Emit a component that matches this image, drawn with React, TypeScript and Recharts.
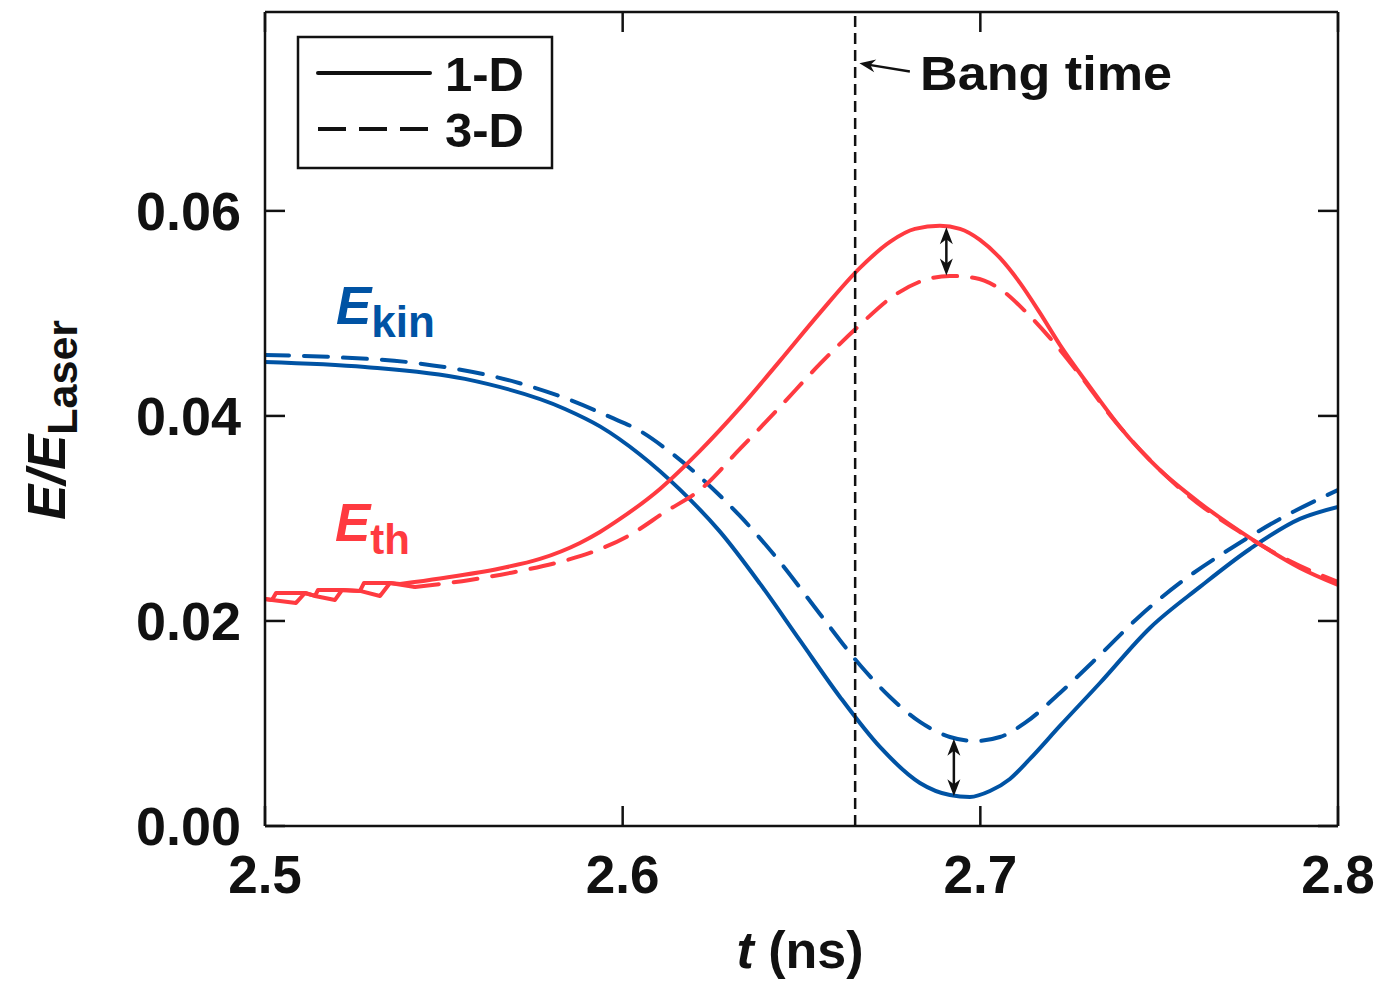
import React from "react";
import { LineChart, Line, XAxis, YAxis, ReferenceLine } from "recharts";

const FONT = "'Liberation Sans', Arial, Helvetica, sans-serif";
const BLUE = "#0053A4";
const RED = "#FF3A40";
const INK = "#111111";

const W = 1367;
const H = 968;
const MARGIN = { top: 3, right: 36, bottom: 70, left: 137 };

const xTicks = [2.5, 2.6, 2.7, 2.8];
const yTicks = [0, 0.02, 0.04, 0.06];
const xDomain = [2.5, 2.8];
const yDomain = [0, 0.0794];
const bangTime = 2.665;

// kinetic energy, 1-D run
const kin1DTime = [2.5, 2.52796, 2.55591, 2.58387, 2.59365, 2.60483, 2.61602, 2.6272, 2.63838, 2.64957, 2.66075, 2.67193, 2.68311, 2.6915, 2.69709, 2.70268, 2.70827, 2.71387, 2.72225, 2.73344, 2.74742, 2.7614, 2.77537, 2.78935, 2.8];
const kin1DValue = [0.04527, 0.04478, 0.04361, 0.04068, 0.03898, 0.03624, 0.03281, 0.02871, 0.02364, 0.0181, 0.01259, 0.00771, 0.0042, 0.00302, 0.00283, 0.00341, 0.00459, 0.00654, 0.00976, 0.01395, 0.01932, 0.02332, 0.02702, 0.02995, 0.03112];

// kinetic energy, 3-D run
const kin3DTime = [2.5, 2.52097, 2.54193, 2.56989, 2.58527, 2.59645, 2.60483, 2.61322, 2.62161, 2.63279, 2.64397, 2.65515, 2.66634, 2.67473, 2.68311, 2.6915, 2.69849, 2.70548, 2.71247, 2.72225, 2.73344, 2.74462, 2.7558, 2.76978, 2.78376, 2.8];
const kin3DValue = [0.04595, 0.04571, 0.04517, 0.04332, 0.04156, 0.0399, 0.03854, 0.03649, 0.03405, 0.03024, 0.02576, 0.02068, 0.01571, 0.01259, 0.01015, 0.00868, 0.00829, 0.00868, 0.01005, 0.01298, 0.01668, 0.02049, 0.02371, 0.02702, 0.02995, 0.03278];

// thermal energy, 1-D run: restart steps at early time, then the smooth part
const th1DRampTime = [2.5, 2.50196, 2.50308, 2.51118, 2.51398, 2.51482, 2.52153, 2.52656, 2.52768, 2.53495, 2.53774];
const th1DRampValue = [0.02215, 0.02205, 0.02273, 0.02273, 0.02244, 0.02302, 0.02302, 0.02293, 0.02371, 0.02371, 0.02361];
const th1DTime = [2.53774, 2.54892, 2.5657, 2.57688, 2.58806, 2.59365, 2.59925, 2.61043, 2.62161, 2.63279, 2.64397, 2.65515, 2.66634, 2.67473, 2.68172, 2.6887, 2.6943, 2.69989, 2.70548, 2.71107, 2.71666, 2.72225, 2.73064, 2.73903, 2.75021, 2.76139, 2.77537, 2.78935, 2.8];
const th1DValue = [0.02361, 0.02415, 0.02512, 0.02605, 0.02761, 0.02868, 0.02995, 0.03288, 0.03659, 0.04078, 0.04537, 0.05005, 0.05444, 0.05698, 0.05824, 0.05854, 0.05824, 0.05717, 0.05541, 0.05298, 0.05005, 0.04693, 0.04283, 0.03893, 0.03473, 0.03151, 0.0281, 0.02517, 0.02351];

// thermal energy, 3-D run
const th3DRampTime = [2.5, 2.50196, 2.50867, 2.51118, 2.51398, 2.51957, 2.52153, 2.52656, 2.53215, 2.53495, 2.54193];
const th3DRampValue = [0.02215, 0.02205, 0.02176, 0.02273, 0.02244, 0.02205, 0.02302, 0.02293, 0.02244, 0.02371, 0.02332];
const th3DTime = [2.54193, 2.55731, 2.56989, 2.58247, 2.5931, 2.60204, 2.61183, 2.62161, 2.63279, 2.64397, 2.65515, 2.66634, 2.67613, 2.68451, 2.6915, 2.69849, 2.70548, 2.71247, 2.71946, 2.72785, 2.73623, 2.74741, 2.7586, 2.77258, 2.78655, 2.8];
const th3DValue = [0.02332, 0.024, 0.02478, 0.02576, 0.02693, 0.02839, 0.03063, 0.03278, 0.03678, 0.04088, 0.04507, 0.04888, 0.0518, 0.05327, 0.05366, 0.05346, 0.05239, 0.05024, 0.04761, 0.044, 0.0401, 0.03571, 0.0321, 0.02868, 0.02585, 0.0238];

// gap markers between 1-D and 3-D near peak / minimum
const thGap = { t: 2.6905, top: 0.0584, bottom: 0.0537 };
const kinGap = { t: 2.6926, top: 0.0085, bottom: 0.0029 };
// pointer from the "Bang time" note to the dashed line
const bangPointer = { from: { t: 2.6803, v: 0.0736 }, to: { t: 2.6662, v: 0.0744 } };

const legendItems = [
  { label: "1-D", dash: undefined as string | undefined },
  { label: "3-D", dash: "28 13" },
];

const zip = (t: number[], v: number[]) => t.map((x, i) => ({ t: x, v: v[i] }));

const DASH = "24 15";
const axisStroke = { stroke: INK, strokeWidth: 2.5 };
// inward tick length along the top edge, in y units (~20px)
const topTickLen = ((yDomain[1] - yDomain[0]) * 20) / 814;

const YTickLabel = ({ x, y, payload }: any) => (
  <text x={x} y={y + 19} textAnchor="end" fontFamily={FONT} fontWeight="bold" fontSize={54} fill={INK}>
    {Number(payload.value).toFixed(2)}
  </text>
);

const XTickLabel = ({ x, y, payload }: any) => (
  <text x={x} y={y + 67} textAnchor="middle" fontFamily={FONT} fontWeight="bold" fontSize={53} fill={INK}>
    {Number(payload.value).toFixed(1)}
  </text>
);

// mirrored axes: tick marks only, no labels
const NoLabel = () => <g />;

const arrowHead = (tx: number, ty: number, ux: number, uy: number, len = 17, half = 6.5) => {
  const bx = tx - ux * len;
  const by = ty - uy * len;
  const nx = -uy;
  const ny = ux;
  const notch = 5;
  return `${tx},${ty} ${bx + nx * half},${by + ny * half} ${tx - ux * (len - notch)},${ty - uy * (len - notch)} ${bx - nx * half},${by - ny * half}`;
};

const DoubleArrow = ({ x1, y1, x2, y2 }: any) => {
  const len = Math.hypot(x2 - x1, y2 - y1) || 1;
  const ux = (x2 - x1) / len;
  const uy = (y2 - y1) / len;
  return (
    <g>
      <line x1={x1 + ux * 10} y1={y1 + uy * 10} x2={x2 - ux * 10} y2={y2 - uy * 10} stroke={INK} strokeWidth={2.5} />
      <polygon points={arrowHead(x1, y1, -ux, -uy)} fill={INK} />
      <polygon points={arrowHead(x2, y2, ux, uy)} fill={INK} />
    </g>
  );
};

const Pointer = ({ x1, y1, x2, y2 }: any) => {
  const len = Math.hypot(x2 - x1, y2 - y1) || 1;
  const ux = (x2 - x1) / len;
  const uy = (y2 - y1) / len;
  return (
    <g>
      <line x1={x1} y1={y1} x2={x2 - ux * 10} y2={y2 - uy * 10} stroke={INK} strokeWidth={2.5} />
      <polygon points={arrowHead(x2, y2, ux, uy, 16, 6.5)} fill={INK} />
    </g>
  );
};

const lineProps = {
  xAxisId: "bottom",
  yAxisId: "left",
  dataKey: "v",
  strokeWidth: 4,
  dot: false,
  isAnimationActive: false,
};

export default function App() {
  return (
    <div style={{ position: "relative", width: W, height: H, background: "#fff" }}>
      <style>
        {"html, body, #root, .recharts-wrapper, .recharts-surface { overflow: visible !important; }"}
      </style>
      <LineChart width={W} height={H} margin={MARGIN}>
        <XAxis
          xAxisId="bottom"
          orientation="bottom"
          type="number"
          dataKey="t"
          domain={xDomain}
          ticks={xTicks}
          interval={0}
          allowDataOverflow
          height={80}
          tickSize={-20}
          tickMargin={20}
          axisLine={axisStroke}
          tickLine={axisStroke}
          tick={XTickLabel}
        />
        <XAxis
          xAxisId="top"
          orientation="top"
          type="number"
          domain={xDomain}
          ticks={xTicks}
          interval={0}
          allowDataOverflow
          height={1}
          axisLine={axisStroke}
          tickLine={false}
          tick={NoLabel}
        />
        <YAxis
          yAxisId="left"
          orientation="left"
          type="number"
          domain={yDomain}
          ticks={yTicks}
          interval={0}
          allowDataOverflow
          width={120}
          tickSize={-20}
          tickMargin={44}
          axisLine={axisStroke}
          tickLine={axisStroke}
          tick={YTickLabel}
        />
        <YAxis
          yAxisId="right"
          orientation="right"
          type="number"
          domain={yDomain}
          ticks={yTicks}
          interval={0}
          allowDataOverflow
          width={1}
          tickSize={-20}
          axisLine={axisStroke}
          tickLine={axisStroke}
          tick={NoLabel}
        />

        {xTicks.map((t) => (
          <ReferenceLine
            key={`top-${t}`}
            xAxisId="bottom"
            yAxisId="left"
            segment={[{ x: t, y: yDomain[1] }, { x: t, y: yDomain[1] - topTickLen }]}
            stroke={INK}
            strokeWidth={2.5}
          />
        ))}

        <Line {...lineProps} data={zip(kin1DTime, kin1DValue)} type="monotone" stroke={BLUE} />
        <Line {...lineProps} data={zip(kin3DTime, kin3DValue)} type="monotone" stroke={BLUE} strokeDasharray={DASH} strokeLinecap="round" />
        <Line {...lineProps} data={zip(th1DRampTime, th1DRampValue)} type="linear" stroke={RED} strokeLinejoin="round" />
        <Line {...lineProps} data={zip(th1DTime, th1DValue)} type="monotone" stroke={RED} />
        <Line {...lineProps} data={zip(th3DRampTime, th3DRampValue)} type="linear" stroke={RED} strokeLinejoin="round" />
        <Line {...lineProps} data={zip(th3DTime, th3DValue)} type="monotone" stroke={RED} strokeDasharray={DASH} strokeLinecap="round" />

        <ReferenceLine xAxisId="bottom" yAxisId="left" x={bangTime} stroke={INK} strokeWidth={2.5} strokeDasharray="11 6" />
        <ReferenceLine
          xAxisId="bottom"
          yAxisId="left"
          segment={[{ x: thGap.t, y: thGap.top }, { x: thGap.t, y: thGap.bottom }]}
          shape={DoubleArrow}
        />
        <ReferenceLine
          xAxisId="bottom"
          yAxisId="left"
          segment={[{ x: kinGap.t, y: kinGap.top }, { x: kinGap.t, y: kinGap.bottom }]}
          shape={DoubleArrow}
        />
        <ReferenceLine
          xAxisId="bottom"
          yAxisId="left"
          segment={[{ x: bangPointer.from.t, y: bangPointer.from.v }, { x: bangPointer.to.t, y: bangPointer.to.v }]}
          shape={Pointer}
        />
      </LineChart>

      <svg
        width={W}
        height={H}
        style={{ position: "absolute", left: 0, top: 0, overflow: "visible", pointerEvents: "none" }}
        fontFamily={FONT}
        fontWeight="bold"
      >
        {/* legend box */}
        <rect x={290} y={29} width={254} height={131} fill="#fff" stroke={INK} strokeWidth={2.5} />
        {legendItems.map((item, i) => {
          const y = 65 + i * 56;
          return (
            <g key={item.label}>
              <line x1={310} x2={422} y1={y} y2={y} stroke={INK} strokeWidth={4} strokeDasharray={item.dash} strokeLinecap={item.dash ? "butt" : "round"} />
              <text x={437} y={y + 18} fontSize={49} fill={INK}>
                {item.label}
              </text>
            </g>
          );
        })}

        <text x={912} y={82} fontSize={48} fill={INK} textLength={252} lengthAdjust="spacingAndGlyphs">
          Bang time
        </text>

        <text x={328} y={316} fill={BLUE}>
          <tspan fontStyle="italic" fontSize={53}>E</tspan>
          <tspan fontSize={44} dy={13}>kin</tspan>
        </text>
        <text x={327} y={533} fill={RED}>
          <tspan fontStyle="italic" fontSize={53}>E</tspan>
          <tspan fontSize={42} dy={13}>th</tspan>
        </text>

        {/* axis titles */}
        <text x={792} y={960} textAnchor="middle" fontSize={52} fill={INK}>
          <tspan fontStyle="italic">t</tspan>
          <tspan> (ns)</tspan>
        </text>
        <text transform="translate(57, 412) rotate(-90)" textAnchor="middle" fill={INK}>
          <tspan fontStyle="italic" fontSize={53}>E/E</tspan>
          <tspan fontSize={43} dy={12}>Laser</tspan>
        </text>
      </svg>
    </div>
  );
}
